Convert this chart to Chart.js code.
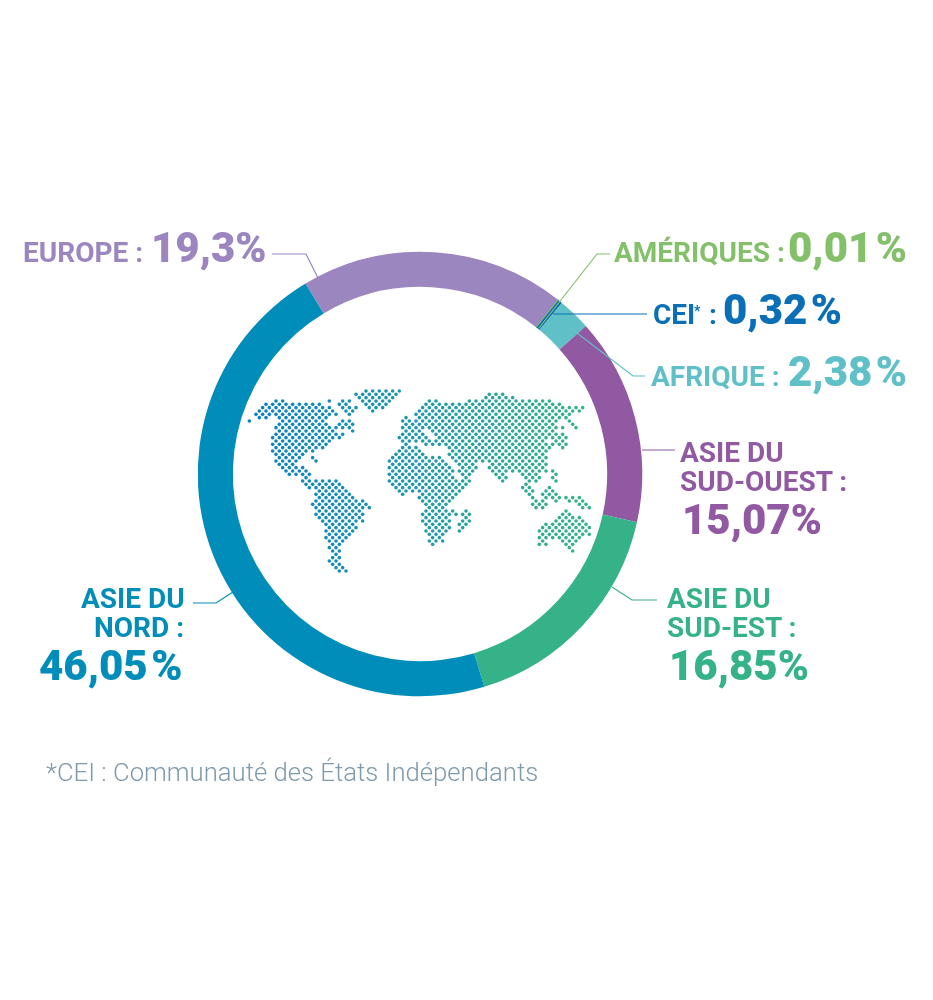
<!DOCTYPE html>
<html lang="fr">
<head>
<meta charset="utf-8">
<title>Répartition par région</title>
<script src="https://cdn.jsdelivr.net/npm/chart.js@4"></script>
<style>
  html, body { margin: 0; background: #fff; }
  #page { position: relative; width: 933px; height: 1000px; overflow: hidden; font-family: Roboto, sans-serif; }
  #ring { position: absolute; left: 0; top: 0; }
  #map { position: absolute; left: 240px; top: 381px; }
  .txt { position: absolute; white-space: nowrap; font-weight: 700; }
  #note { position: absolute; left: 46px; top: 757px; font-size: 25.7px; line-height: 30px; font-weight: 300; color: #7e9aad; white-space: nowrap; }
</style>
</head>
<body>
<div id="page">
  <canvas id="map" width="360" height="200"></canvas>
  <canvas id="ring" width="933" height="1000"></canvas>
  <div id="note">*CEI : Communauté des États Indépendants</div>
</div>
<script>
const regions = ['Europe', 'Amériques', 'CEI', 'Afrique', 'Asie du Sud-Ouest', 'Asie du Sud-Est', 'Asie du Nord'];
const shares = [19.3, 0.01, 0.32, 2.38, 15.07, 16.85, 46.05];
const colors = ['#9b86bf', '#84bf6a', '#0b6fb8', '#5fc0c8', '#9159a2', '#36b289', '#008db9'];

// labels: text, size, left, baseline, index of the colour
const labels = [
  ['EUROPE :', 28, 23, 263, 0],
  ['19,3%', 42, 151, 262, 0],
  ['AMÉRIQUES :', 28, 614, 263, 1],
  ['0,01 %', 42, 788, 262, 1],
  ['CEI', 28, 653, 325, 2],
  ['*', 14, 694, 316, 2],
  [':', 28, 709, 325, 2],
  ['0,32 %', 42, 723, 324, 2],
  ['AFRIQUE :', 28, 651, 387, 3],
  ['2,38 %', 42, 788, 386, 3],
  ['ASIE DU', 28, 680, 463, 4],
  ['SUD-OUEST :', 28, 680, 492, 4],
  ['15,07%', 42, 682, 534, 4],
  ['ASIE DU', 28, 667, 609, 5],
  ['SUD-EST :', 28, 667, 638, 5],
  ['16,85%', 42, 669, 680, 5],
  ['ASIE DU', 28, 81, 609, 6],
  ['NORD :', 28, 94, 638, 6],
  ['46,05 %', 42, 39, 680, 6],
];

const leaders = [
  [0, [[272, 254], [306, 254], [318, 278]]],
  [1, [[610, 254], [597, 254], [539, 328]]],
  [2, [[647, 314], [553, 314]]],
  [3, [[645, 376], [633, 376], [577, 333]]],
  [4, [[675, 450], [642, 450]]],
  [5, [[657, 600], [632, 600], [612, 587]]],
  [6, [[193, 603], [216, 603], [233, 592]]],
];

// dotted world map: one list of [from, to] spans per dot row
const mapRows = [
  [[378, 478]],
  [[348, 468], [738, 788]],
  [[358, 458], [735, 815]],
  [[108, 128], [155, 155], [268, 268], [298, 338], [368, 448], [558, 588], [688, 928]],
  [[78, 248], [288, 328], [378, 438], [548, 658], [678, 968]],
  [[68, 268], [298, 348], [388, 428], [538, 1028]],
  [[48, 278], [308, 338], [388, 408], [528, 1018]],
  [[38, 108], [118, 268], [288, 288], [318, 328], [528, 998]],
  [[58, 78], [108, 258], [288, 288], [488, 508], [538, 988]],
  [[28, 28], [118, 258], [298, 328], [478, 518], [528, 948], [978, 998]],
  [[108, 268], [288, 338], [488, 508], [518, 938], [988, 1008]],
  [[108, 278], [288, 338], [488, 518], [528, 968], [1008, 1008]],
  [[118, 288], [338, 338], [498, 548], [578, 948]],
  [[108, 318], [488, 528], [548, 558], [578, 968]],
  [[98, 298], [478, 518], [538, 558], [588, 928], [938, 978]],
  [[98, 278], [478, 528], [548, 568], [588, 918], [938, 978]],
  [[98, 258], [488, 508], [558, 938], [948, 978]],
  [[98, 248], [488, 528], [628, 938], [958, 978]],
  [[98, 228], [478, 538], [638, 918], [968, 968]],
  [[108, 188], [218, 218], [468, 548], [628, 918]],
  [[108, 178], [218, 218], [458, 598], [638, 918]],
  [[108, 168], [228, 228], [448, 608], [648, 688], [708, 918]],
  [[118, 168], [448, 618], [658, 698], [748, 918]],
  [[128, 188], [448, 628], [658, 708], [748, 918]],
  [[138, 198], [448, 638], [658, 698], [758, 918], [938, 938]],
  [[148, 208], [448, 638], [668, 688], [768, 798], [838, 898], [938, 948]],
  [[188, 208], [448, 638], [678, 678], [778, 798], [848, 898], [938, 948]],
  [[188, 298], [448, 688], [788, 788], [858, 888], [948, 948]],
  [[198, 308], [458, 678], [848, 868]],
  [[208, 318], [458, 678], [848, 878], [918, 928]],
  [[228, 328], [468, 528], [538, 668], [858, 878], [908, 948]],
  [[218, 338], [478, 488], [538, 658], [868, 878], [908, 958]],
  [[228, 348], [538, 638], [868, 888], [918, 958], [978, 1028]],
  [[218, 378], [548, 628], [878, 908], [938, 948], [988, 1038]],
  [[218, 378], [548, 618], [878, 928], [1008, 1038]],
  [[228, 388], [558, 608], [888, 918], [1028, 1048]],
  [[228, 368], [548, 638], [678, 678], [968, 988]],
  [[228, 378], [548, 648], [668, 688], [958, 998]],
  [[238, 368], [548, 628], [668, 688], [948, 1018]],
  [[248, 368], [548, 628], [658, 688], [938, 1038]],
  [[248, 348], [558, 628], [658, 678], [908, 1038]],
  [[258, 348], [558, 628], [658, 668], [908, 1048]],
  [[258, 338], [558, 618], [658, 658], [898, 1048]],
  [[258, 338], [568, 618], [898, 1048]],
  [[258, 328], [568, 608], [898, 1028]],
  [[258, 318], [568, 588], [608, 608], [898, 918], [958, 1018]],
  [[268, 308], [578, 578], [898, 898], [918, 918], [968, 1008]],
  [[268, 298], [988, 998]],
  [[268, 298], [998, 998]],
  [[278, 298]],
  [[268, 298]],
  [[268, 298]],
  [[278, 298]],
  [[288, 308]],
  [[298, 318]],
];

const page = document.getElementById('page');
labels.forEach(([text, size, left, baseline, colorIndex]) => {
  const el = document.createElement('div');
  el.className = 'txt';
  el.textContent = text;
  el.style.fontSize = size + 'px';
  el.style.lineHeight = size + 'px';
  el.style.fontWeight = size > 30 ? 900 : 700;
  el.style.wordSpacing = size > 30 ? '-7px' : '0';
  el.style.left = left + 'px';
  el.style.top = (baseline - size * 0.84) + 'px';
  el.style.color = colors[colorIndex];
  page.appendChild(el);
});

// rows alternate on a diagonal lattice, spans are snapped to it
const mapDots = [];
mapRows.forEach((spans, row) => {
  const phase = row % 2 === 0 ? 18 : 8;
  spans.forEach(([from, to]) => {
    for (let x = phase; x <= to + 5; x += 20) {
      if (x >= from - 5) mapDots.push({ x: x, y: row });
    }
  });
});

function mapColor(ctx) {
  const t = Math.min(ctx.raw.x / 1040, 1);
  const r = Math.round(8 + (56 - 8) * t);
  const g = Math.round(126 + (180 - 126) * t);
  const b = Math.round(200 + (136 - 200) * t);
  return `rgb(${r}, ${g}, ${b})`;
}

new Chart(document.getElementById('map'), {
  type: 'scatter',
  data: {
    datasets: [{
      data: mapDots,
      pointRadius: 1.8,
      pointBorderWidth: 0,
      pointBackgroundColor: mapColor,
    }],
  },
  options: {
    responsive: false,
    animation: false,
    layout: { autoPadding: false },
    plugins: { legend: { display: false }, tooltip: { enabled: false } },
    scales: {
      x: { display: false, min: 0, max: 1080 },
      y: { display: false, reverse: true, min: -3, max: 57 },
    },
  },
});

const leaderLines = {
  id: 'leaderLines',
  afterDraw(chart) {
    const c = chart.ctx;
    c.save();
    c.lineWidth = 1.2;
    leaders.forEach(([colorIndex, pts]) => {
      c.strokeStyle = colors[colorIndex];
      c.beginPath();
      pts.forEach(([x, y], i) => (i ? c.lineTo(x, y) : c.moveTo(x, y)));
      c.stroke();
    });
    c.restore();
  },
};

new Chart(document.getElementById('ring'), {
  type: 'doughnut',
  data: {
    labels: regions,
    datasets: [{
      data: shares,
      backgroundColor: colors,
      borderColor: colors,
      borderWidth: [0, 1.5, 0, 0, 0, 0, 0],
    }],
  },
  options: {
    responsive: false,
    animation: false,
    cutout: '84.2%',
    rotation: -31,
    layout: { padding: { left: 197, right: 290, top: 251, bottom: 303 } },
    plugins: { legend: { display: false }, tooltip: { enabled: false } },
  },
  plugins: [leaderLines],
});
</script>
</body>
</html>
